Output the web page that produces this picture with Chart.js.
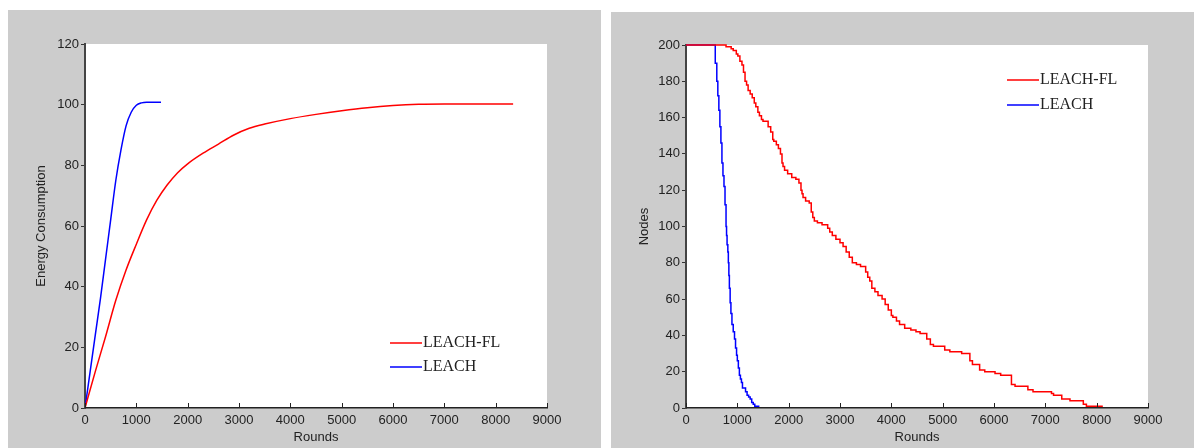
<!DOCTYPE html>
<html>
<head>
<meta charset="utf-8">
<script src="https://cdn.jsdelivr.net/npm/chart.js@4.4.1/dist/chart.umd.min.js"></script>
<style>
    body { margin: 0; background: #fff; width: 1194px; height: 448px; overflow: hidden; position: relative; }
    .panel { position: absolute; background: #cccccc; }
    #left { left: 8px; top: 10px; width: 593px; height: 438px; }
    #right { left: 611px; top: 12px; width: 583px; height: 436px; }
</style>
</head>
<body>
<div class="panel" id="left"><canvas id="energyChart" width="593" height="438"></canvas></div>
<div class="panel" id="right"><canvas id="nodesChart" width="583" height="436"></canvas></div>
<script>
const seriesNames = ["LEACH-FL", "LEACH"];
const seriesColors = ["#ff0000", "#0000ff"];

const roundTicks = [0, 1000, 2000, 3000, 4000, 5000, 6000, 7000, 8000, 9000];
const energyTicks = [0, 20, 40, 60, 80, 100, 120];
const nodeTicks = [0, 20, 40, 60, 80, 100, 120, 140, 160, 180, 200];

// left chart: energy consumption
const flEnergyRounds = [0, 200, 400, 600, 800, 1000, 1200, 1400, 1600, 1800, 2000, 2300, 2600, 2900, 3200, 3500, 4000, 4500, 5000, 5500, 6000, 6500, 7000, 8340];
const flEnergy = [0, 12, 23.5, 35.5, 45.5, 54, 62, 68.5, 73.5, 77.5, 80.5, 84, 87, 90, 92.2, 93.6, 95.4, 96.8, 98, 99, 99.7, 100.1, 100.2, 100.2];
const leachEnergyRounds = [0, 100, 200, 300, 400, 500, 600, 700, 800, 900, 1000, 1100, 1200, 1480];
const leachEnergy = [0, 12, 24, 36, 49, 62, 75, 85, 93, 97.5, 99.8, 100.6, 100.8, 100.8];

// right chart: alive nodes (step data)
const flNodesRounds = [0, 780, 880, 920, 980, 1010, 1050, 1090, 1120, 1150, 1180, 1210, 1250, 1290, 1330, 1360, 1400, 1430, 1470, 1500, 1600, 1650, 1690, 1710, 1760, 1800, 1840, 1870, 1890, 1920, 1980, 2060, 2140, 2200, 2240, 2260, 2280, 2330, 2400, 2440, 2470, 2500, 2560, 2650, 2760, 2800, 2850, 2920, 3000, 3060, 3120, 3180, 3240, 3320, 3400, 3500, 3540, 3580, 3620, 3680, 3740, 3820, 3880, 3940, 4000, 4030, 4100, 4160, 4260, 4380, 4480, 4560, 4690, 4760, 4820, 5040, 5140, 5370, 5530, 5580, 5720, 5820, 6020, 6130, 6340, 6410, 6660, 6760, 7120, 7160, 7320, 7480, 7740, 7800, 8060, 8120];
const flNodes = [200, 200, 199, 198, 197, 195, 194, 191, 189, 185, 180, 178, 175, 173, 171, 168, 166, 163, 161, 159, 158, 155, 152, 148, 147, 145, 143, 140, 135, 133, 131, 129, 127, 126, 124, 120, 118, 116, 114, 113, 108, 105, 103, 102, 101, 99, 97, 95, 93, 91, 89, 86, 83, 80, 79, 78, 75, 72, 70, 66, 64, 62, 60, 57, 54, 51, 50, 48, 46, 44, 43, 42, 41, 38, 35, 34, 32, 31, 30, 26, 24, 21, 20, 19, 18, 13, 12, 10, 9, 8, 7, 5, 4, 2, 1, 1];
const leachNodesRounds = [0, 570, 600, 620, 640, 660, 680, 700, 720, 740, 760, 780, 790, 800, 815, 825, 835, 845, 860, 875, 895, 920, 945, 965, 985, 1000, 1020, 1040, 1060, 1080, 1100, 1130, 1160, 1190, 1220, 1250, 1280, 1310, 1340, 1370, 1430];
const leachNodes = [200, 200, 190, 180, 172, 164, 155, 146, 135, 128, 122, 112, 100, 95, 90, 86, 80, 73, 66, 58, 52, 46, 42, 38, 33, 29, 26, 22, 18, 16, 14, 11, 11, 9, 7, 6, 5, 3, 2, 1, 1];

const toPoints = (xs, ys) => xs.map((x, i) => ({ x: x, y: ys[i] }));

const sansFont = { family: "'Liberation Sans', Arial, sans-serif", size: 13 };
const textColor = "#222";

// white plot area on the grey panel
const plotBackground = {
    id: "plotBackground",
    beforeDraw(chart) {
        const { ctx, chartArea } = chart;
        ctx.save();
        ctx.fillStyle = "#fff";
        ctx.fillRect(chartArea.left, chartArea.top, chartArea.right - chartArea.left, chartArea.bottom - chartArea.top);
        ctx.restore();
    },
};

// x ticks point up into the plot, like the original
const innerTicks = {
    id: "innerTicks",
    afterDraw(chart) {
        const { ctx, chartArea } = chart;
        const xScale = chart.scales.x;
        ctx.save();
        ctx.strokeStyle = "#222";
        ctx.lineWidth = 1;
        xScale.ticks.forEach((t) => {
            const px = Math.round(xScale.getPixelForValue(t.value)) + 0.5;
            ctx.beginPath();
            ctx.moveTo(px, chartArea.bottom);
            ctx.lineTo(px, chartArea.bottom - 5);
            ctx.stroke();
        });
        ctx.restore();
    },
};

// legend drawn inside the plot area
const boxLegend = {
    id: "boxLegend",
    afterDraw(chart, args, opts) {
        const { ctx, chartArea } = chart;
        ctx.save();
        ctx.font = "16px 'Liberation Serif', 'Times New Roman', serif";
        ctx.textBaseline = "middle";
        chart.data.datasets.forEach((ds, i) => {
            const x = chartArea.left + opts.left;
            const y = chartArea.top + opts.top + i * opts.gap;
            ctx.strokeStyle = ds.borderColor;
            ctx.lineWidth = 1.5;
            ctx.beginPath();
            ctx.moveTo(x, y);
            ctx.lineTo(x + 32, y);
            ctx.stroke();
            ctx.fillStyle = textColor;
            ctx.fillText(ds.label, x + 33, y);
        });
        ctx.restore();
    },
};

function makeOptions(yTicks, yMax, yTitle, padding, yWidth, legendPos) {
    return {
        responsive: false,
        animation: false,
        layout: { padding: padding },
        plugins: {
            legend: { display: false },
            tooltip: { enabled: false },
            boxLegend: legendPos,
        },
        scales: {
            x: {
                type: "linear",
                min: 0,
                max: 9000,
                afterBuildTicks: (s) => { s.ticks = roundTicks.map((v) => ({ value: v })); },
                afterFit: (s) => { s.height = 40; },
                grid: { display: true, drawOnChartArea: false, drawTicks: false },
                border: { display: true, color: "#222", width: 1.5 },
                ticks: { color: textColor, font: sansFont, padding: 5, maxRotation: 0, autoSkip: false, callback: (v) => String(v) },
                title: { display: true, text: "Rounds", color: textColor, font: sansFont, padding: { top: 0, bottom: 3 } },
            },
            y: {
                min: 0,
                max: yMax,
                afterBuildTicks: (s) => { s.ticks = yTicks.map((v) => ({ value: v })); },
                afterFit: (s) => { s.width = yWidth; },
                grid: { display: true, drawOnChartArea: false, drawTicks: true, tickLength: 4, color: "#333" },
                border: { display: true, color: "#444", width: 2 },
                ticks: { color: textColor, font: sansFont, padding: 2, autoSkip: false, callback: (v) => String(v) },
                title: { display: true, text: yTitle, color: textColor, font: sansFont, padding: { top: 0, bottom: 0 } },
            },
        },
    };
}

new Chart(document.getElementById("energyChart"), {
    type: "line",
    data: {
        datasets: [
            {
                label: seriesNames[0],
                data: toPoints(flEnergyRounds, flEnergy),
                borderColor: seriesColors[0],
                borderWidth: 1.5,
                pointRadius: 0,
                cubicInterpolationMode: "monotone",
            },
            {
                label: seriesNames[1],
                data: toPoints(leachEnergyRounds, leachEnergy),
                borderColor: seriesColors[1],
                borderWidth: 1.5,
                pointRadius: 0,
                cubicInterpolationMode: "monotone",
            },
        ],
    },
    options: makeOptions(energyTicks, 120, "Energy Consumption", { left: 26, top: 34, right: 54, bottom: 0 }, 51, { left: 305, top: 299, gap: 24 }),
    plugins: [plotBackground, innerTicks, boxLegend],
});

new Chart(document.getElementById("nodesChart"), {
    type: "line",
    data: {
        datasets: [
            {
                label: seriesNames[0],
                data: toPoints(flNodesRounds, flNodes),
                borderColor: seriesColors[0],
                borderWidth: 1.5,
                pointRadius: 0,
                stepped: "after",
                clip: false,
            },
            {
                label: seriesNames[1],
                data: toPoints(leachNodesRounds, leachNodes),
                borderColor: seriesColors[1],
                borderWidth: 1.5,
                pointRadius: 0,
                stepped: "after",
                clip: false,
            },
        ],
    },
    options: makeOptions(nodeTicks, 200, "Nodes", { left: 26, top: 33, right: 46, bottom: 0 }, 49, { left: 321, top: 35, gap: 25 }),
    plugins: [plotBackground, innerTicks, boxLegend],
});
</script>
</body>
</html>
